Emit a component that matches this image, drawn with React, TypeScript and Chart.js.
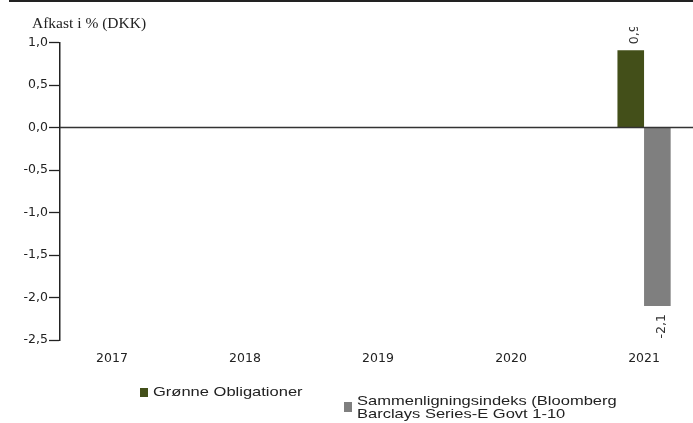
import React, { useEffect, useRef } from "react";
import { Chart, registerables } from "chart.js";

Chart.register(...registerables);

const categories = ["2017", "2018", "2019", "2020", "2021"];
const years = [2017, 2018, 2019, 2020, 2021];
const greenValues: (number | null)[] = [null, null, null, null, 0.91];
const greyValues: (number | null)[] = [null, null, null, null, -2.1];
const yTickValues = [1.0, 0.5, 0.0, -0.5, -1.0, -1.5, -2.0, -2.5];
const greenName = "Grønne Obligationer";
const greyNameLines = ["Sammenligningsindeks (Bloomberg", "Barclays Series-E Govt 1-10"];
const titleText = "Afkast i % (DKK)";

const GREEN = "#434f19";
const GREY = "#7f7f7f";
const DARK = "#222222";
const SANS = "'DejaVu Sans', 'Liberation Sans', sans-serif";

const fmt = (v: number) => v.toFixed(1).replace(".", ",");

export default function App() {
  const ref = useRef<HTMLCanvasElement | null>(null);

  useEffect(() => {
    const canvas = ref.current;
    if (!canvas) return;

    const decor = {
      id: "decor",
      beforeDraw(chart: any) {
        const ctx = chart.ctx;
        ctx.save();
        ctx.strokeStyle = DARK;
        ctx.lineWidth = 2;
        ctx.beginPath();
        ctx.moveTo(9, 1);
        ctx.lineTo(693, 1);
        ctx.stroke();
        ctx.fillStyle = DARK;
        ctx.font = "15.5px 'Liberation Serif', serif";
        ctx.textAlign = "left";
        ctx.textBaseline = "alphabetic";
        ctx.fillText(titleText, 32, 28);
        ctx.restore();
      },
      afterDatasetsDraw(chart: any) {
        const ctx = chart.ctx;
        const y0 = chart.scales.y.getPixelForValue(0);
        ctx.save();
        ctx.strokeStyle = "#333333";
        ctx.lineWidth = 1.5;
        ctx.beginPath();
        ctx.moveTo(chart.chartArea.left, y0);
        ctx.lineTo(693, y0);
        ctx.stroke();
        ctx.restore();

        ctx.save();
        ctx.beginPath();
        ctx.rect(0, 27, 693, 396);
        ctx.clip();
        ctx.fillStyle = "#333333";
        ctx.font = "12.5px " + SANS;
        ctx.textBaseline = "middle";
        chart.data.datasets.forEach((ds: any, di: number) => {
          const meta = chart.getDatasetMeta(di);
          meta.data.forEach((el: any, i: number) => {
            const v = ds.data[i].y;
            if (v === null || v === undefined) return;
            ctx.save();
            if (v >= 0) {
              ctx.translate(el.x + 4, el.y - 6);
              ctx.rotate(-Math.PI / 2);
              ctx.textAlign = "left";
            } else {
              ctx.translate(el.x + 4, el.y + 8);
              ctx.rotate(-Math.PI / 2);
              ctx.textAlign = "right";
            }
            ctx.fillText(fmt(v), 0, 0);
            ctx.restore();
          });
        });
        ctx.restore();
      },
    };

    const chart = new Chart(canvas, {
      type: "bar",
      data: {
        datasets: [
          {
            label: greenName,
            data: years.map((x, i) => ({ x, y: greenValues[i] })) as any,
            backgroundColor: GREEN,
            borderWidth: 0,
          },
          {
            label: greyNameLines.join(" "),
            data: years.map((x, i) => ({ x, y: greyValues[i] })) as any,
            backgroundColor: GREY,
            borderWidth: 0,
          },
        ],
      },
      options: {
        responsive: false,
        animation: false,
        events: [],
        layout: { padding: { top: 42.5, left: 0, right: 0, bottom: 0 } },
        datasets: { bar: { categoryPercentage: 0.4, barPercentage: 1.0 } },
        plugins: { legend: { display: false }, tooltip: { enabled: false }, title: { display: false } },
        scales: {
          x: {
            type: "linear",
            min: 2016.609,
            max: 2021.368,
            offset: false,
            grid: { display: false, drawTicks: false },
            border: { display: false },
            afterBuildTicks: (scale: any) => {
              scale.ticks = years.map((v) => ({ value: v }));
            },
            afterFit: (scale: any) => {
              scale.height = 83;
            },
            ticks: {
              autoSkip: false,
              maxRotation: 0,
              padding: 11,
              color: DARK,
              font: { family: SANS, size: 12.5 },
              callback: (_v: any, i: number) => categories[i],
            },
          },
          y: {
            min: -2.5,
            max: 1.0,
            afterBuildTicks: (scale: any) => {
              scale.ticks = yTickValues.map((v) => ({ value: v }));
            },
            afterFit: (scale: any) => {
              scale.width = 60;
            },
            grid: {
              drawOnChartArea: false,
              drawTicks: true,
              tickLength: 11,
              tickColor: DARK,
              tickWidth: 1.3,
            },
            border: { display: true, color: DARK, width: 1.5 },
            ticks: {
              padding: 1,
              color: DARK,
              font: { family: SANS, size: 12.5 },
              callback: (v: any) => fmt(Number(v)),
            },
          },
        },
      },
      plugins: [decor],
    } as any);

    return () => chart.destroy();
  }, []);

  const legendText: React.CSSProperties = {
    position: "absolute",
    fontFamily: "'Liberation Sans', Arial, sans-serif",
    fontSize: "13px",
    lineHeight: "12.5px",
    color: DARK,
    transform: "scaleX(1.27)",
    transformOrigin: "left top",
    whiteSpace: "nowrap",
  };

  return (
    <div style={{ position: "absolute", left: 0, top: 0, width: 693, height: 423, overflow: "hidden", background: "#fff" }}>
      <canvas ref={ref} width={693} height={423} style={{ width: 693, height: 423, display: "block" }} />
      <div style={{ position: "absolute", left: 140, top: 388, width: 8, height: 9, background: GREEN }} />
      <div style={{ ...legendText, left: 153, top: 386 }}>{greenName}</div>
      <div style={{ position: "absolute", left: 344, top: 402, width: 8, height: 10, background: GREY }} />
      <div style={{ ...legendText, left: 357, top: 395 }}>
        {greyNameLines.map((l, i) => (
          <div key={i}>{l}</div>
        ))}
      </div>
    </div>
  );
}
